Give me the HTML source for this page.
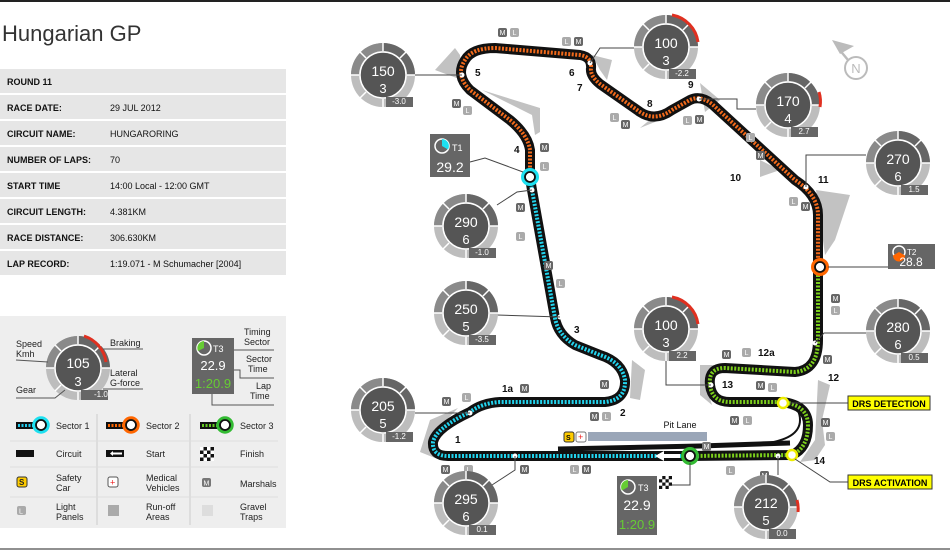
<!DOCTYPE html>
<html><head><meta charset="utf-8"><style>
html,body{margin:0;padding:0;background:#fff}
body{width:950px;height:551px;overflow:hidden;position:relative;font-family:"Liberation Sans",sans-serif}
svg{position:absolute;left:0;top:0}
</style></head><body>
<svg width="950" height="551" viewBox="0 0 950 551" font-family="Liberation Sans, sans-serif">
<defs>
<g id="gauge">
<circle r="32" fill="#bdbdbd"/>
<path d="M0,-32 A32,32 0 0 1 32,0 L24,0 A24,24 0 0 0 0,-24Z" fill="#666"/>
<path d="M-32,0 A32,32 0 0 1 0,-32 L0,-24 A24,24 0 0 0 -24,0Z" fill="#8a8a8a"/>
<g stroke="#fff" stroke-width="1.5">
<line x1="0" y1="-24" x2="0" y2="-32"/><line x1="17" y1="-17" x2="23" y2="-23"/><line x1="24" y1="0" x2="32" y2="0"/>
<line x1="-17" y1="-17" x2="-23" y2="-23"/><line x1="-24" y1="0" x2="-32" y2="0"/><line x1="-17" y1="17" x2="-23" y2="23"/><line x1="0" y1="24" x2="0" y2="32"/>
</g>
<circle r="23" fill="#555" stroke="#fff" stroke-width="1.5"/>
<rect x="3" y="22" width="27" height="10" fill="#666"/>
</g>
</defs>

<line x1="0" y1="1" x2="950" y2="1" stroke="#222" stroke-width="2"/>
<line x1="0" y1="549" x2="950" y2="549" stroke="#222" stroke-width="1"/>

<text x="2" y="41" font-size="22" fill="#333">Hungarian GP</text>
<g font-size="9" fill="#111">
<rect x="0" y="69" width="286" height="24" fill="#e6e6e6"/>
<rect x="0" y="95" width="286" height="24" fill="#e6e6e6"/>
<rect x="0" y="121" width="286" height="24" fill="#e6e6e6"/>
<rect x="0" y="147" width="286" height="24" fill="#e6e6e6"/>
<rect x="0" y="173" width="286" height="24" fill="#e6e6e6"/>
<rect x="0" y="199" width="286" height="24" fill="#e6e6e6"/>
<rect x="0" y="225" width="286" height="24" fill="#e6e6e6"/>
<rect x="0" y="251" width="286" height="24" fill="#e6e6e6"/>
<g font-weight="bold">
<text x="7" y="85">ROUND 11</text><text x="7" y="111">RACE DATE:</text><text x="7" y="137">CIRCUIT NAME:</text>
<text x="7" y="163">NUMBER OF LAPS:</text><text x="7" y="189">START TIME</text><text x="7" y="215">CIRCUIT LENGTH:</text>
<text x="7" y="241">RACE DISTANCE:</text><text x="7" y="267">LAP RECORD:</text></g>
<text x="110" y="111">29 JUL 2012</text><text x="110" y="137">HUNGARORING</text><text x="110" y="163">70</text>
<text x="110" y="189">14:00 Local - 12:00 GMT</text><text x="110" y="215">4.381KM</text><text x="110" y="241">306.630KM</text>
<text x="110" y="267">1:19.071 - M Schumacher [2004]</text>
</g>

<rect x="0" y="316" width="286" height="212" fill="#eeeeee"/>
<g font-size="9" fill="#222">
<use href="#gauge" x="78" y="368"/>
<path d="M84,336 A32,32 0 0 1 106,362" fill="none" stroke="#e03020" stroke-width="3"/>
<text x="78" y="368" font-size="14" fill="#fff" text-anchor="middle">105</text>
<text x="78" y="386" font-size="13" fill="#fff" text-anchor="middle">3</text>
<text x="94" y="397" font-size="8" fill="#fff">-1.0</text>
<text x="16" y="347">Speed</text><text x="16" y="357">Kmh</text><text x="16" y="393">Gear</text>
<text x="110" y="346">Braking</text><text x="110" y="376">Lateral</text><text x="110" y="386">G-force</text>
<g stroke="#555" stroke-width="1" fill="none"><polyline points="16,360 48,362"/><polyline points="103,349 143,349"/><polyline points="103,389 143,389"/><polyline points="16,398 55,398 65,390"/></g>
<rect x="192" y="338" width="42" height="56" fill="#666"/>
<circle cx="204" cy="348" r="7" fill="none" stroke="#fff" stroke-width="1.5"/>
<path d="M204,348 L204,341 A7,7 0 0 0 198,351Z" fill="#6c3"/>
<text x="213" y="352" font-size="9" fill="#fff">T3</text>
<text x="213" y="370" font-size="13" fill="#fff" text-anchor="middle">22.9</text>
<text x="213" y="388" font-size="13" fill="#6c3" text-anchor="middle">1:20.9</text>
<text x="244" y="335">Timing</text><text x="244" y="345">Sector</text><text x="246" y="362">Sector</text><text x="248" y="372">Time</text>
<text x="256" y="389">Lap</text><text x="250" y="399">Time</text>
<g stroke="#555" fill="none"><polyline points="234,350 274,350"/><polyline points="234,370 240,370 240,378 274,378"/><polyline points="212,394 212,405 274,405"/></g>
<line x1="97" y1="414" x2="97" y2="525" stroke="#ccc"/><line x1="190" y1="414" x2="190" y2="525" stroke="#ccc"/>
<line x1="10" y1="441" x2="278" y2="441" stroke="#ddd"/><line x1="10" y1="467" x2="278" y2="467" stroke="#ddd"/><line x1="10" y1="497" x2="278" y2="497" stroke="#ddd"/>
<rect x="16" y="422" width="22" height="7" fill="#111"/><line x1="18" y1="425.5" x2="36" y2="425.5" stroke="#2ce" stroke-width="3" stroke-dasharray="2 1.5"/>
<circle cx="41" cy="425" r="7" fill="#fff" stroke="#1de0f0" stroke-width="3.5"/><circle cx="41" cy="425" r="5" fill="none" stroke="#111" stroke-width="1.8"/>
<text x="56" y="429">Sector 1</text>
<rect x="106" y="422" width="22" height="7" fill="#111"/><line x1="108" y1="425.5" x2="126" y2="425.5" stroke="#f60" stroke-width="3" stroke-dasharray="2 1.5"/>
<circle cx="131" cy="425" r="7" fill="#fff" stroke="#f60" stroke-width="3.5"/><circle cx="131" cy="425" r="5" fill="none" stroke="#111" stroke-width="1.8"/>
<text x="146" y="429">Sector 2</text>
<rect x="200" y="422" width="22" height="7" fill="#111"/><line x1="202" y1="425.5" x2="220" y2="425.5" stroke="#6c2" stroke-width="3" stroke-dasharray="2 1.5"/>
<circle cx="225" cy="425" r="7" fill="#fff" stroke="#3b3" stroke-width="3.5"/><circle cx="225" cy="425" r="5" fill="none" stroke="#111" stroke-width="1.8"/>
<text x="240" y="429">Sector 3</text>
<rect x="16" y="450" width="18" height="7" fill="#111"/><text x="56" y="457">Circuit</text>
<rect x="106" y="450" width="18" height="7" fill="#111"/><path d="M110,453.5 L113,451 L113,452.5 L122,452.5 L122,454.5 L113,454.5 L113,456Z" fill="#fff"/><text x="146" y="457">Start</text>
<rect x="200" y="447" width="14" height="14" fill="#111"/>
<g fill="#fff"><rect x="200" y="447" width="3.5" height="3.5"/><rect x="207" y="447" width="3.5" height="3.5"/><rect x="203.5" y="450.5" width="3.5" height="3.5"/><rect x="210.5" y="450.5" width="3.5" height="3.5"/><rect x="200" y="454" width="3.5" height="3.5"/><rect x="207" y="454" width="3.5" height="3.5"/><rect x="203.5" y="457.5" width="3.5" height="3.5"/><rect x="210.5" y="457.5" width="3.5" height="3.5"/></g>
<text x="240" y="457">Finish</text>
<rect x="17" y="477" width="10" height="10" rx="2" fill="#fc0" stroke="#333"/><text x="19" y="485" font-size="8" font-weight="bold">S</text>
<text x="56" y="481">Safety</text><text x="56" y="491">Car</text>
<rect x="108" y="477" width="10" height="10" rx="2" fill="#fff" stroke="#555"/><text x="110" y="485.5" font-size="9" fill="#e22">+</text>
<text x="146" y="481">Medical</text><text x="146" y="491">Vehicles</text>
<rect x="202" y="478" width="9" height="9" rx="2" fill="#777"/><text x="203.5" y="485.5" font-size="7" fill="#fff">M</text>
<text x="240" y="487">Marshals</text>
<rect x="17" y="506" width="9" height="9" rx="2" fill="#aaa"/><text x="19" y="513.5" font-size="7" fill="#fff">L</text>
<text x="56" y="510">Light</text><text x="56" y="520">Panels</text>
<rect x="108" y="505" width="11" height="11" fill="#aaa"/><text x="146" y="510">Run-off</text><text x="146" y="520">Areas</text>
<rect x="202" y="505" width="11" height="11" fill="#ddd"/><text x="240" y="510">Gravel</text><text x="240" y="520">Traps</text>
</g>

<g fill="#c2c2c2">
<path d="M455,48 L435,70 L462,80 L460,55Z"/>
<path d="M482,90 L540,108 L540,132 L535,135 L532,115 Z"/>
<path d="M592,55 L612,60 L607,80 L600,70Z"/>
<path d="M700,83 L720,100 L705,112 Z"/>
<path d="M652,118 L640,128 L660,120Z"/>
<path d="M760,160 L780,170 L760,177Z"/>
<path d="M816,190 L850,195 L835,240 L825,255 Z"/>
<path d="M700,365 L700,395 L712,405 L705,382 L720,365 Z"/>
<path d="M818,380 L830,385 L822,420 L825,445 L815,460 L800,462 L815,440Z"/>
<path d="M632,360 L645,370 L640,400 L630,398 Z"/>
<path d="M458,408 L430,420 L420,452 L435,458 L437,430 Z"/>
</g>

<rect x="588" y="432" width="119" height="9" fill="#9aa6b8"/>
<path d="M558,449 L700,446 L760,444 L790,443" stroke="#111" stroke-width="5" fill="none"/>
<path d="M760,444 Q800,440 800,420 Q800,408 790,405" stroke="#111" stroke-width="2" fill="none"/>
<text x="680" y="428" font-size="9" fill="#111" text-anchor="middle">Pit Lane</text>
<rect x="564" y="432" width="10" height="10" rx="2" fill="#fc0" stroke="#333"/><text x="566" y="440" font-size="7" font-weight="bold">S</text>
<rect x="576" y="432" width="10" height="10" rx="2" fill="#fff" stroke="#777"/><text x="578" y="440" font-size="9" fill="#e22">+</text>

<g fill="none" stroke-linejoin="round" stroke-linecap="butt">
<path d="M688,456 L448,456 Q432,456 433,442 Q436,428 470,412 Q482,403 500,402 L605,402 Q626,400 625,380 Q622,362 600,355 L575,345 Q558,335 555,318 L532,190 L530,178 L530,150 Q528,135 510,120 L470,90 Q455,75 465,60 Q472,48 495,48 L580,55 Q592,57 591,68 Q590,76 600,84 L640,112 Q655,122 672,110 L690,100 Q700,95 712,104 L795,180 Q818,195 818,215 L818,340 Q818,370 795,372 L725,368 Q708,368 710,385 Q712,402 730,402 L782,402 Q808,405 808,425 Q808,448 792,455 L688,456" stroke="#111" stroke-width="10" stroke-linecap="round"/>
<path d="M688,456 L448,456 Q432,456 433,442 Q436,428 470,412 Q482,403 500,402 L605,402 Q626,400 625,380 Q622,362 600,355 L575,345 Q558,335 555,318 L532,190 L530,178" stroke="#22d4ee" stroke-width="4" stroke-dasharray="2 1.5"/>
<path d="M530,178 L530,150 Q528,135 510,120 L470,90 Q455,75 465,60 Q472,48 495,48 L580,55 Q592,57 591,68 Q590,76 600,84 L640,112 Q655,122 672,110 L690,100 Q700,95 712,104 L795,180 Q818,195 818,215 L818,268" stroke="#f26a1b" stroke-width="4" stroke-dasharray="2 1.5"/>
<path d="M818,268 L818,340 Q818,370 795,372 L725,368 Q708,368 710,385 Q712,402 730,402 L782,402 Q808,405 808,425 Q808,448 792,455 L688,456" stroke="#7ccf1c" stroke-width="4" stroke-dasharray="2 1.5"/>
</g>
<path d="M655,456 L664,451 L664,454 L680,454 L680,458 L664,458 L664,461Z" fill="#fff"/>

<circle cx="530" cy="177" r="7" fill="#fff" stroke="#1de0f0" stroke-width="4"/><circle cx="530" cy="177" r="5" fill="none" stroke="#111" stroke-width="1.8"/>
<circle cx="820" cy="267" r="7" fill="#fff" stroke="#f60" stroke-width="4"/><circle cx="820" cy="267" r="5" fill="none" stroke="#111" stroke-width="1.8"/>
<circle cx="690" cy="456" r="7" fill="#fff" stroke="#3b3" stroke-width="4"/><circle cx="690" cy="456" r="5" fill="none" stroke="#111" stroke-width="1.8"/>
<circle cx="783" cy="403" r="5" fill="#fff" stroke="#ee0" stroke-width="2.5"/>
<circle cx="792" cy="455" r="5" fill="#fff" stroke="#ee0" stroke-width="2.5"/>
<g fill="#fff"><circle cx="462" cy="75" r="2.5"/><circle cx="590" cy="63" r="2.5"/><circle cx="699" cy="99" r="2.5"/><circle cx="806" cy="187" r="2.5"/><circle cx="815" cy="343" r="2.5"/><circle cx="711" cy="385" r="2.5"/><circle cx="778" cy="456" r="2.5"/><circle cx="515" cy="456" r="2.5"/><circle cx="470" cy="413" r="2.5"/><circle cx="560" cy="317" r="2.5"/><circle cx="532" cy="190" r="2.5"/></g>

<g stroke="#444" fill="none" stroke-width="1">
<polyline points="414,75 462,75"/><polyline points="590,63 600,48 634,48"/><polyline points="699,99 737,99 737,109 756,109"/>
<polyline points="806,187 806,155 866,155"/><polyline points="828,267 888,267"/><polyline points="815,343 824,333 866,333"/>
<polyline points="666,361 666,385 711,385"/><polyline points="532,190 517,192 497,205"/><polyline points="560,317 497,315"/>
<polyline points="470,413 415,413"/><polyline points="515,456 515,470 492,485"/><polyline points="778,456 778,475"/>
<polyline points="690,463 690,485 672,485"/><polyline points="470,162 485,158 523,172"/>
<polyline points="790,403 848,403"/><polyline points="795,459 830,482 848,482"/>
</g>

<g font-size="10" font-weight="bold" fill="#111">
<text x="475" y="76">5</text><text x="569" y="76">6</text><text x="577" y="91">7</text><text x="647" y="107">8</text><text x="688" y="88">9</text>
<text x="730" y="181">10</text><text x="818" y="183">11</text><text x="514" y="153">4</text><text x="574" y="333">3</text>
<text x="502" y="392">1a</text><text x="620" y="416">2</text><text x="455" y="443">1</text><text x="758" y="356">12a</text>
<text x="828" y="381">12</text><text x="722" y="388">13</text><text x="814" y="464">14</text>
</g>

<rect x="848" y="396" width="82" height="14" fill="#ff0" stroke="#333"/><text x="889" y="407" font-size="9" font-weight="bold" text-anchor="middle">DRS DETECTION</text>
<rect x="848" y="475" width="84" height="14" fill="#ff0" stroke="#333"/><text x="890" y="486" font-size="9" font-weight="bold" text-anchor="middle">DRS ACTIVATION</text>

<g font-size="7" fill="#fff" text-anchor="middle">
<g><rect x="498" y="28" width="9" height="9" rx="2" fill="#666"/><text x="502.5" y="35">M</text><rect x="510" y="28" width="9" height="9" rx="2" fill="#aaa"/><text x="514.5" y="35">L</text></g>
<g><rect x="562" y="37" width="9" height="9" rx="2" fill="#aaa"/><text x="566.5" y="44">L</text><rect x="574" y="37" width="9" height="9" rx="2" fill="#666"/><text x="578.5" y="44">M</text></g>
<g><rect x="452" y="99" width="9" height="9" rx="2" fill="#666"/><text x="456.5" y="106">M</text><rect x="463" y="106" width="9" height="9" rx="2" fill="#aaa"/><text x="467.5" y="113">L</text></g>
<g><rect x="540" y="143" width="9" height="9" rx="2" fill="#666"/><text x="544.5" y="150">M</text><rect x="540" y="162" width="9" height="9" rx="2" fill="#aaa"/><text x="544.5" y="169">L</text></g>
<g><rect x="610" y="113" width="9" height="9" rx="2" fill="#aaa"/><text x="614.5" y="120">L</text><rect x="621" y="120" width="9" height="9" rx="2" fill="#666"/><text x="625.5" y="127">M</text></g>
<g><rect x="683" y="116" width="9" height="9" rx="2" fill="#aaa"/><text x="687.5" y="123">L</text><rect x="695" y="115" width="9" height="9" rx="2" fill="#666"/><text x="699.5" y="122">M</text></g>
<g><rect x="746" y="133" width="9" height="9" rx="2" fill="#aaa"/><text x="750.5" y="140">L</text><rect x="756" y="151" width="9" height="9" rx="2" fill="#666"/><text x="760.5" y="158">M</text></g>
<g><rect x="789" y="197" width="9" height="9" rx="2" fill="#aaa"/><text x="793.5" y="204">L</text><rect x="801" y="202" width="9" height="9" rx="2" fill="#666"/><text x="805.5" y="209">M</text></g>
<g><rect x="831" y="294" width="9" height="9" rx="2" fill="#666"/><text x="835.5" y="301">M</text><rect x="831" y="306" width="9" height="9" rx="2" fill="#aaa"/><text x="835.5" y="313">L</text></g>
<g><rect x="516" y="203" width="9" height="9" rx="2" fill="#666"/><text x="520.5" y="210">M</text><rect x="516" y="232" width="9" height="9" rx="2" fill="#aaa"/><text x="520.5" y="239">L</text></g>
<g><rect x="544" y="261" width="9" height="9" rx="2" fill="#666"/><text x="548.5" y="268">M</text><rect x="556" y="279" width="9" height="9" rx="2" fill="#aaa"/><text x="560.5" y="286">L</text></g>
<g><rect x="600" y="380" width="9" height="9" rx="2" fill="#666"/><text x="604.5" y="387">M</text><rect x="520" y="384" width="9" height="9" rx="2" fill="#666"/><text x="524.5" y="391">M</text></g>
<g><rect x="442" y="397" width="9" height="9" rx="2" fill="#666"/><text x="446.5" y="404">M</text><rect x="462" y="393" width="9" height="9" rx="2" fill="#aaa"/><text x="466.5" y="400">L</text></g>
<g><rect x="590" y="412" width="9" height="9" rx="2" fill="#666"/><text x="594.5" y="419">M</text><rect x="602" y="412" width="9" height="9" rx="2" fill="#aaa"/><text x="606.5" y="419">L</text></g>
<g><rect x="441" y="465" width="9" height="9" rx="2" fill="#666"/><text x="445.5" y="472">M</text><rect x="464" y="465" width="9" height="9" rx="2" fill="#aaa"/><text x="468.5" y="472">L</text><rect x="520" y="465" width="9" height="9" rx="2" fill="#666"/><text x="524.5" y="472">M</text></g>
<g><rect x="570" y="465" width="9" height="9" rx="2" fill="#aaa"/><text x="574.5" y="472">L</text><rect x="582" y="465" width="9" height="9" rx="2" fill="#666"/><text x="586.5" y="472">M</text></g>
<g><rect x="722" y="350" width="9" height="9" rx="2" fill="#666"/><text x="726.5" y="357">M</text><rect x="742" y="348" width="9" height="9" rx="2" fill="#aaa"/><text x="746.5" y="355">L</text></g>
<g><rect x="756" y="381" width="9" height="9" rx="2" fill="#666"/><text x="760.5" y="388">M</text><rect x="768" y="383" width="9" height="9" rx="2" fill="#aaa"/><text x="772.5" y="390">L</text></g>
<g><rect x="730" y="416" width="9" height="9" rx="2" fill="#666"/><text x="734.5" y="423">M</text><rect x="743" y="416" width="9" height="9" rx="2" fill="#aaa"/><text x="747.5" y="423">L</text></g>
<g><rect x="821" y="418" width="9" height="9" rx="2" fill="#666"/><text x="825.5" y="425">M</text><rect x="826" y="432" width="9" height="9" rx="2" fill="#aaa"/><text x="830.5" y="439">L</text></g>
<g><rect x="823" y="355" width="9" height="9" rx="2" fill="#666"/><text x="827.5" y="362">M</text><rect x="702" y="442" width="9" height="9" rx="2" fill="#777"/><text x="706.5" y="449">M</text></g>
<g><rect x="726" y="466" width="9" height="9" rx="2" fill="#aaa"/><text x="730.5" y="473">L</text><rect x="760" y="471" width="9" height="9" rx="2" fill="#666"/><text x="764.5" y="478">M</text></g>
</g>

<g text-anchor="middle" fill="#fff">
<use href="#gauge" x="383" y="75"/><text x="383" y="76" font-size="14">150</text><text x="383" y="93" font-size="13">3</text><text x="399" y="104" font-size="8">-3.0</text>
<use href="#gauge" x="666" y="47"/><path d="M672,15 A32,32 0 0 1 698,42" fill="none" stroke="#e03020" stroke-width="3"/><text x="666" y="48" font-size="14">100</text><text x="666" y="65" font-size="13">3</text><text x="682" y="76" font-size="8">-2.2</text>
<use href="#gauge" x="788" y="105"/><path d="M819,92 A32,32 0 0 1 820,107" fill="none" stroke="#e03020" stroke-width="3"/><text x="788" y="106" font-size="14">170</text><text x="788" y="123" font-size="13">4</text><text x="804" y="134" font-size="8">2.7</text>
<use href="#gauge" x="898" y="163"/><text x="898" y="164" font-size="14">270</text><text x="898" y="181" font-size="13">6</text><text x="914" y="192" font-size="8">1.5</text>
<use href="#gauge" x="898" y="331"/><text x="898" y="332" font-size="14">280</text><text x="898" y="349" font-size="13">6</text><text x="914" y="360" font-size="8">0.5</text>
<use href="#gauge" x="666" y="329"/><path d="M672,297 A32,32 0 0 1 698,324" fill="none" stroke="#e03020" stroke-width="3"/><text x="666" y="330" font-size="14">100</text><text x="666" y="347" font-size="13">3</text><text x="682" y="358" font-size="8">2.2</text>
<use href="#gauge" x="466" y="226"/><text x="466" y="227" font-size="14">290</text><text x="466" y="244" font-size="13">6</text><text x="482" y="255" font-size="8">-1.0</text>
<use href="#gauge" x="466" y="313"/><text x="466" y="314" font-size="14">250</text><text x="466" y="331" font-size="13">5</text><text x="482" y="342" font-size="8">-3.5</text>
<use href="#gauge" x="383" y="410"/><text x="383" y="411" font-size="14">205</text><text x="383" y="428" font-size="13">5</text><text x="399" y="439" font-size="8">-1.2</text>
<use href="#gauge" x="466" y="503"/><text x="466" y="504" font-size="14">295</text><text x="466" y="521" font-size="13">6</text><text x="482" y="532" font-size="8">0.1</text>
<use href="#gauge" x="766" y="507"/><path d="M797,500 A32,32 0 0 1 798,512" fill="none" stroke="#e03020" stroke-width="3"/><text x="766" y="508" font-size="14">212</text><text x="766" y="525" font-size="13">5</text><text x="782" y="536" font-size="8">0.0</text>
</g>

<rect x="430" y="134" width="40" height="43" fill="#666"/>
<circle cx="442" cy="146" r="7" fill="none" stroke="#fff" stroke-width="1.5"/><path d="M442,146 L442,139 A7,7 0 0 1 448,149.5Z" fill="#1de0f0"/>
<text x="452" y="151" font-size="9" fill="#fff">T1</text><text x="450" y="172" font-size="14" fill="#fff" text-anchor="middle">29.2</text>
<rect x="888" y="244" width="47" height="25" fill="#666"/>
<circle cx="899" cy="252" r="6" fill="none" stroke="#fff" stroke-width="1.5"/><path d="M899,252 L905,255.5 A6,6 0 0 1 893,255.5Z" fill="#f60"/>
<text x="907" y="255" font-size="8" fill="#fff">T2</text><text x="911" y="266" font-size="12" fill="#fff" text-anchor="middle">28.8</text>
<rect x="617" y="476" width="40" height="59" fill="#666"/>
<circle cx="628" cy="487" r="7" fill="none" stroke="#fff" stroke-width="1.5"/><path d="M628,487 L628,480 A7,7 0 0 0 622,490.5Z" fill="#6c3"/>
<text x="638" y="491" font-size="9" fill="#fff">T3</text>
<text x="637" y="510" font-size="14" fill="#fff" text-anchor="middle">22.9</text><text x="637" y="529" font-size="13" fill="#6c3" text-anchor="middle">1:20.9</text>
<rect x="659" y="476" width="13" height="13" fill="#111"/>
<g fill="#fff"><rect x="659" y="476" width="3.25" height="3.25"/><rect x="665.5" y="476" width="3.25" height="3.25"/><rect x="662.25" y="479.25" width="3.25" height="3.25"/><rect x="668.75" y="479.25" width="3.25" height="3.25"/><rect x="659" y="482.5" width="3.25" height="3.25"/><rect x="665.5" y="482.5" width="3.25" height="3.25"/><rect x="662.25" y="485.75" width="3.25" height="3.25"/><rect x="668.75" y="485.75" width="3.25" height="3.25"/></g>

<circle cx="856" cy="68" r="11" fill="none" stroke="#bbb" stroke-width="2"/>
<text x="856" y="73" font-size="13" fill="#bbb" text-anchor="middle">N</text>
<line x1="848" y1="60" x2="838" y2="48" stroke="#bbb" stroke-width="2.5"/>
<path d="M832,40 L854,46 L840,54Z" fill="#bbb"/>
</svg>
</body></html>
